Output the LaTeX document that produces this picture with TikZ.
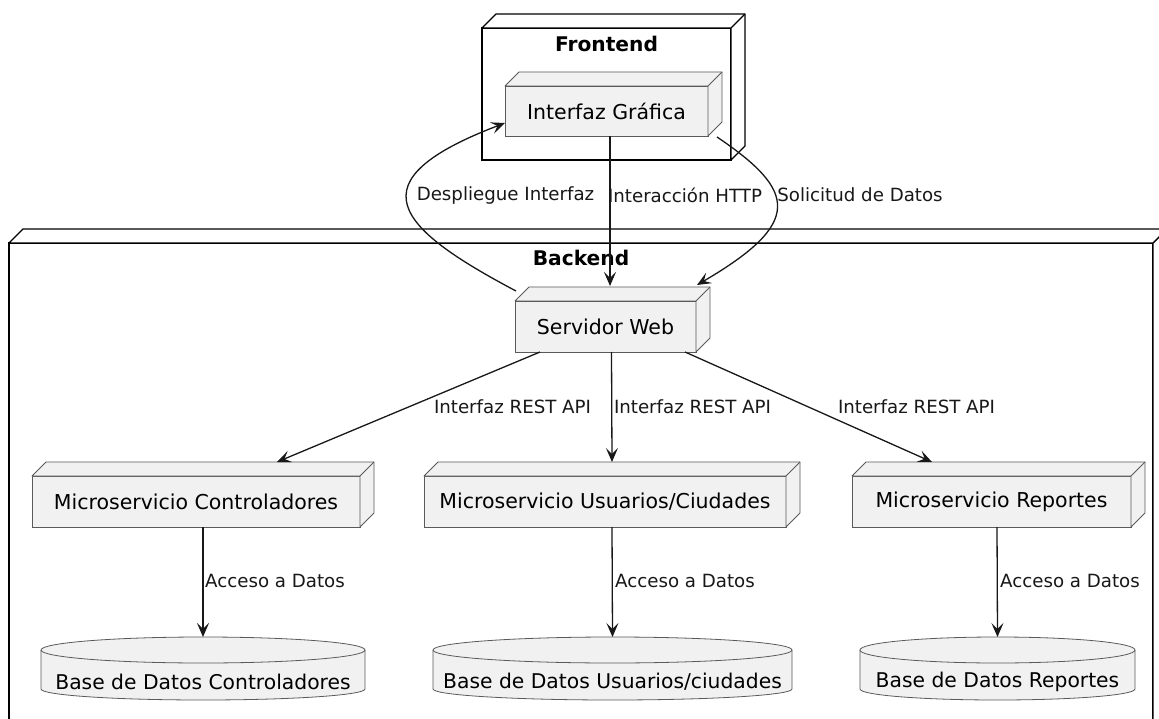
\documentclass[tikz,border=0pt]{standalone}
\usepackage{fontspec}
\setmainfont{DejaVu Sans}
\usetikzlibrary{arrows.meta}
\pgfdeclarelayer{bottom}
\pgfdeclarelayer{middle}
\pgfsetlayers{bottom,middle,main}

\definecolor{boxfill}{HTML}{F1F1F1}
\definecolor{boxline}{HTML}{5A5A5A}
\definecolor{ink}{HTML}{181818}

\tikzset{
  frame/.style={draw=black,line width=1.4pt,fill=white,inner sep=0pt,outer sep=0pt},
  framedepth/.style={draw=black,line width=1.4pt,fill=white,line join=round},
  nodebox/.style={draw=boxline,line width=0.8pt,fill=boxfill,inner sep=0pt,outer sep=0pt,
    minimum height=51pt,font=\fontsize{20.5}{24}\selectfont},
  boxdepthstyle/.style={draw=boxline,line width=0.8pt,fill=boxfill,line join=round},
  dbbody/.style={draw=none,inner sep=0pt,outer sep=0pt,minimum height=37pt,
    font=\fontsize{20.3}{24}\selectfont},
  dbline/.style={draw=boxline,line width=0.8pt,fill=boxfill},
  title/.style={font=\bfseries\fontsize{20.2}{24}\selectfont,inner sep=0pt},
  lbl/.style={font=\fontsize{18.2}{21}\selectfont,inner sep=0pt,text=ink},
  link/.style={draw=ink,line width=1.3pt,-{Stealth[length=14pt,width=12pt,inset=6pt]}},
}

% side and top faces of a 3D node box
\newcommand\depthfaces[2]{%
  \path[#2] (#1.north west) -- ++(14,14) -- ([shift={(14,14)}]#1.north east)
    -- ([shift={(14,14)}]#1.south east) -- (#1.south east) -- (#1.north east) -- cycle;
  \draw[#2,fill=none] (#1.north east) -- ++(14,14);
}
% database cylinder around a body node
\newcommand\cylinderbody[2]{%
  \path[dbline] ([yshift=13pt]#1.north west) -- ([yshift=11pt]#1.south west)
    arc[start angle=180,end angle=360,x radius=#2pt,y radius=11pt]
    -- ([yshift=13pt]#1.north east)
    arc[start angle=0,end angle=180,x radius=#2pt,y radius=13pt] -- cycle;
  \draw[dbline,fill=none] ([yshift=13pt]#1.north west)
    arc[start angle=180,end angle=360,x radius=#2pt,y radius=13pt];
}

\begin{document}
\begin{tikzpicture}[x=1pt,y=1pt]
\useasboundingbox (0,-719) rectangle (1159,0);
\clip (0,-719) rectangle (1159,0);

% containers
\begin{pgfonlayer}{bottom}
  \fill[white] (0,-719) rectangle (1159,0);
  \node[frame,minimum width=1144pt,minimum height=497pt] (backend) at (581,-491.5) {};
  \depthfaces{backend}{framedepth}
  \node[frame,minimum width=249pt,minimum height=132pt] (frontend) at (606.5,-94) {};
  \depthfaces{frontend}{framedepth}
\end{pgfonlayer}
\node[title] (backendt) at (581,-258) {Backend};
\node[title] (frontendt) at (606.5,-44) {Frontend};

% nodes
\node[nodebox,minimum width=203pt,minimum height=50pt] (ig) at (606.5,-111) {Interfaz Gráfica};
\depthfaces{ig}{boxdepthstyle}
\node[nodebox,minimum width=181pt] (sw) at (605.5,-326.5) {Servidor Web};
\depthfaces{sw}{boxdepthstyle}
\node[nodebox,minimum width=328pt] (mc) at (196,-501.5) {Microservicio Controladores};
\depthfaces{mc}{boxdepthstyle}
\node[nodebox,minimum width=362pt] (mu) at (605,-501.5) {Microservicio Usuarios/Ciudades};
\depthfaces{mu}{boxdepthstyle}
\node[nodebox,minimum width=279pt] (mr) at (991.5,-501.5) {Microservicio Reportes};
\depthfaces{mr}{boxdepthstyle}

% databases
\node[dbbody,minimum width=324pt] (dc) at (203,-681.5) {Base de Datos Controladores};
\node[dbbody,minimum width=359pt] (du) at (612.5,-681.5) {Base de Datos Usuarios/ciudades};
\node[dbbody,minimum width=275pt] (dr) at (997.5,-681.5) {Base de Datos Reportes};
\begin{pgfonlayer}{middle}
  \cylinderbody{dc}{162}
  \cylinderbody{du}{179.5}
  \cylinderbody{dr}{137.5}
\end{pgfonlayer}

% frontend <-> web server
\draw[link] ([xshift=1pt,yshift=35.5pt]sw.west) .. controls (395,-227) and (353,-181) .. ([yshift=-12pt]ig.west);
\draw[link] ([xshift=3.5pt]ig.south) -- ([xshift=4.5pt,yshift=15pt]sw.north);
\draw[link] ([xshift=9pt,yshift=-1pt]ig.south east) .. controls (797,-191) and (803,-223) .. ([xshift=1pt,yshift=16pt]sw.north east);
\node[lbl] (l1) at (505.5,-195) {Despliegue Interfaz};
\node[lbl] (l2) at (685,-195) {Interacción HTTP};
\node[lbl] (l3) at (860,-195) {Solicitud de Datos};

% web server -> microservices
\draw[link] ([xshift=-65.5pt]sw.south) -- ([xshift=81pt,yshift=14pt]mc.north);
\draw[link] ([xshift=6pt]sw.south) -- ([xshift=7pt,yshift=14pt]mu.north);
\draw[link] ([xshift=79.5pt]sw.south) -- ([xshift=-59.5pt,yshift=14pt]mr.north);
\node[lbl] (r1) at (512.5,-407) {Interfaz REST API};
\node[lbl] (r2) at (692.5,-407) {Interfaz REST API};
\node[lbl] (r3) at (916.5,-407) {Interfaz REST API};

% microservices -> databases
\draw[link] ([xshift=7pt]mc.south) -- ([yshift=26pt]dc.north);
\draw[link] ([xshift=7pt]mu.south) -- ([yshift=26pt]du.north);
\draw[link] ([xshift=5.5pt]mr.south) -- ([yshift=26pt]dr.north);
\node[lbl] (a1) at (275,-581) {Acceso a Datos};
\node[lbl] (a2) at (685,-581) {Acceso a Datos};
\node[lbl] (a3) at (1070,-581) {Acceso a Datos};
\end{tikzpicture}
\end{document}
